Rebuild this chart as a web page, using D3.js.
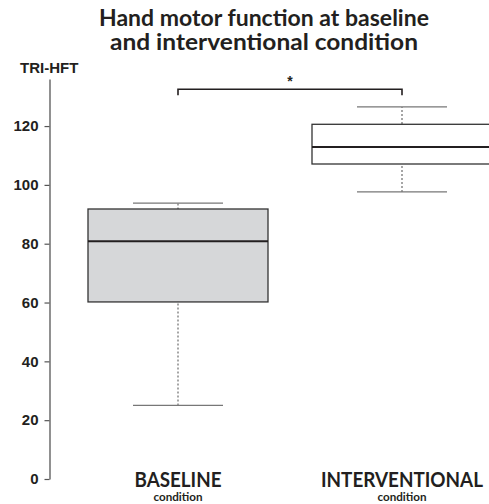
<!DOCTYPE html>
<html lang="en">
<head>
<meta charset="utf-8">
<script src="https://d3js.org/d3.v7.min.js"></script>
<style>
  body { margin: 0; background: #fff; }
</style>
</head>
<body>
<div id="chart"></div>
<script>
// box plot values
var groups = ["BASELINE", "INTERVENTIONAL"];
var whiskerLow = [25, 97.6];
var q1 = [60.2, 107.1];
var median = [80.8, 112.9];
var q3 = [91.8, 120.6];
var whiskerHigh = [93.8, 126.5];
var yTicks = [0, 20, 40, 60, 80, 100, 120];

var width = 489, height = 504;

var svg = d3.select("#chart")
  .append("svg")
    .attr("width", width)
    .attr("height", height);

// scales
var y = d3.scaleLinear().domain([0, 136]).range([479, 79]);
var x = d3.scalePoint().domain(groups).range([178, 402]);
var boxW = 180, capW = 90;

// title
var title = svg.append("text")
  .attr("text-anchor", "middle")
  .style("font-family", "Lato, 'Open Sans', sans-serif")
  .style("font-weight", "bold")
  .style("font-size", "22px")
  .style("fill", "#231f20");
title.append("tspan").attr("x", 264).attr("y", 26)
  .attr("textLength", 330).attr("lengthAdjust", "spacingAndGlyphs")
  .text("Hand motor function at baseline");
title.append("tspan").attr("x", 264).attr("y", 50)
  .attr("textLength", 308).attr("lengthAdjust", "spacingAndGlyphs")
  .text("and interventional condition");

// y axis
var yAxis = svg.append("g")
  .attr("transform", "translate(49.5,0)")
  .call(d3.axisLeft(y).tickValues(yTicks).tickSize(5).tickPadding(6).tickSizeOuter(0));
yAxis.select(".domain").attr("stroke", "#555").attr("stroke-width", 1.3);
yAxis.selectAll(".tick line").attr("stroke", "#555").attr("stroke-width", 1.2);
yAxis.selectAll(".tick text")
  .style("font-family", "'Liberation Sans', Arial, sans-serif")
  .style("font-weight", "bold")
  .style("font-size", "15px")
  .attr("fill", "#231f20");

svg.append("text")
  .attr("x", 20).attr("y", 73)
  .style("font-family", "'Liberation Sans', Arial, sans-serif")
  .style("font-weight", "bold")
  .style("font-size", "15px")
  .style("fill", "#231f20")
  .text("TRI-HFT");

// boxes
var fills = ["#d6d7d9", "#ffffff"];
var box = svg.selectAll(".box")
  .data(groups)
  .enter()
  .append("g")
    .attr("class", "box");

box.append("line")
  .attr("x1", function(d) { return x(d); })
  .attr("x2", function(d) { return x(d); })
  .attr("y1", function(d, i) { return y(whiskerLow[i]); })
  .attr("y2", function(d, i) { return y(whiskerHigh[i]); })
  .attr("stroke", "#777")
  .attr("stroke-width", 1.3)
  .attr("stroke-dasharray", "2,2");

box.append("line")
  .attr("x1", function(d) { return x(d) - capW / 2; })
  .attr("x2", function(d) { return x(d) + capW / 2; })
  .attr("y1", function(d, i) { return y(whiskerLow[i]); })
  .attr("y2", function(d, i) { return y(whiskerLow[i]); })
  .attr("stroke", "#777").attr("stroke-width", 1.3);

box.append("line")
  .attr("x1", function(d) { return x(d) - capW / 2; })
  .attr("x2", function(d) { return x(d) + capW / 2; })
  .attr("y1", function(d, i) { return y(whiskerHigh[i]); })
  .attr("y2", function(d, i) { return y(whiskerHigh[i]); })
  .attr("stroke", "#777").attr("stroke-width", 1.3);

box.append("rect")
  .attr("x", function(d) { return x(d) - boxW / 2; })
  .attr("y", function(d, i) { return y(q3[i]); })
  .attr("width", boxW)
  .attr("height", function(d, i) { return y(q1[i]) - y(q3[i]); })
  .attr("fill", function(d, i) { return fills[i]; })
  .attr("stroke", "#333")
  .attr("stroke-width", 1.3);

box.append("line")
  .attr("x1", function(d) { return x(d) - boxW / 2; })
  .attr("x2", function(d) { return x(d) + boxW / 2; })
  .attr("y1", function(d, i) { return y(median[i]); })
  .attr("y2", function(d, i) { return y(median[i]); })
  .attr("stroke", "#231f20")
  .attr("stroke-width", 2);

// x labels
var labelW = [87, 162];
box.append("text")
  .attr("x", function(d) { return x(d); })
  .attr("y", 487)
  .attr("text-anchor", "middle")
  .attr("textLength", function(d, i) { return labelW[i]; })
  .attr("lengthAdjust", "spacingAndGlyphs")
  .style("font-family", "Lato, 'Open Sans', sans-serif")
  .style("font-weight", "bold")
  .style("font-size", "20px")
  .style("fill", "#231f20")
  .text(function(d) { return d; });

box.append("text")
  .attr("x", function(d) { return x(d); })
  .attr("y", 501)
  .attr("text-anchor", "middle")
  .attr("textLength", 49)
  .attr("lengthAdjust", "spacingAndGlyphs")
  .style("font-family", "Lato, 'Open Sans', sans-serif")
  .style("font-weight", "bold")
  .style("font-size", "11px")
  .style("fill", "#231f20")
  .text("condition");

// significance bracket
var bracketY = y(132.5);
svg.append("path")
  .attr("d", "M" + x(groups[0]) + "," + (bracketY + 6) +
             "V" + bracketY + "H" + x(groups[1]) + "V" + (bracketY + 6))
  .attr("fill", "none")
  .attr("stroke", "#231f20")
  .attr("stroke-width", 1.6);

svg.append("text")
  .attr("x", (x(groups[0]) + x(groups[1])) / 2)
  .attr("y", bracketY - 3)
  .attr("text-anchor", "middle")
  .style("font-family", "'Liberation Sans', Arial, sans-serif")
  .style("font-weight", "bold")
  .style("font-size", "14px")
  .style("fill", "#231f20")
  .text("*");
</script>
</body>
</html>
